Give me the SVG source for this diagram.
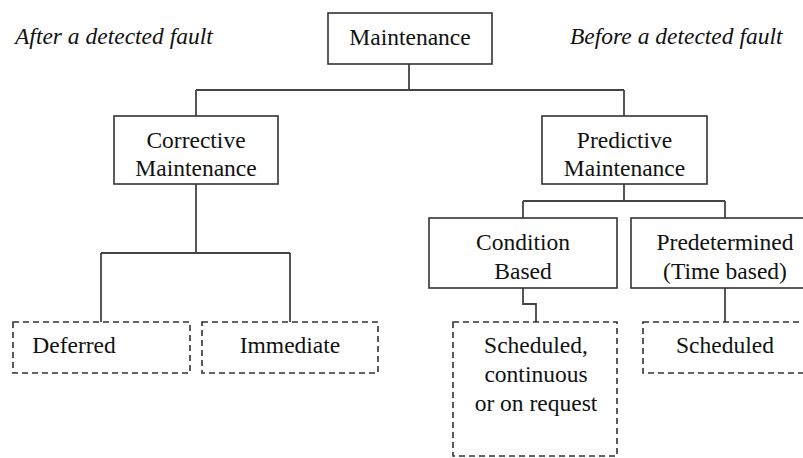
<svg xmlns="http://www.w3.org/2000/svg" width="803" height="458" viewBox="0 0 803 458">
<style>
.bg{fill:#fff}
.box{fill:#fff;stroke:#333;stroke-width:1.6}
.dbox{fill:#fff;stroke:#333;stroke-width:1.6;stroke-dasharray:6 4}
.con{fill:none;stroke:#444;stroke-width:1.8}
.t{font-family:'Liberation Serif','DejaVu Serif',serif;font-size:23.5px;fill:#111;text-anchor:middle}
.it{font-style:italic;text-anchor:start}
</style>
<rect class="bg" x="0" y="0" width="803" height="458"/>
<g id="connectors">
<path class="con" d="M409,64V90M196,90H624M196,90V116M624,90V116"/>
<path class="con" d="M196,184V253M101,253H290M101,253V322M290,253V322"/>
<path class="con" d="M624,184V201M523,201H725M523,201V218M725,201V218"/>
<path class="con" d="M523,288V304H536V322"/>
<path class="con" d="M725,288V322"/>
</g>
<g id="label-after"><text class="t it" x="15" y="44">After a detected fault</text></g>
<g id="label-before"><text class="t it" x="570" y="44">Before a detected fault</text></g>
<g id="maintenance">
<rect class="box" x="328" y="13" width="164" height="51"/>
<text class="t" x="410" y="45">Maintenance</text>
</g>
<g id="corrective">
<rect class="box" x="114" y="116" width="164" height="68"/>
<text class="t" x="196" y="148">Corrective</text>
<text class="t" x="196" y="176">Maintenance</text>
</g>
<g id="predictive">
<rect class="box" x="542" y="116" width="165" height="68"/>
<text class="t" x="624.5" y="148">Predictive</text>
<text class="t" x="624.5" y="176">Maintenance</text>
</g>
<g id="deferred">
<rect class="dbox" x="13" y="322" width="177" height="51"/>
<text class="t" x="74" y="353">Deferred</text>
</g>
<g id="immediate">
<rect class="dbox" x="202" y="322" width="176" height="51"/>
<text class="t" x="290" y="353">Immediate</text>
</g>
<g id="condition">
<rect class="box" x="429" y="218" width="188" height="70"/>
<text class="t" x="523" y="250">Condition</text>
<text class="t" x="523" y="279">Based</text>
</g>
<g id="predetermined">
<rect class="box" x="631" y="218" width="190" height="70"/>
<text class="t" x="725" y="250">Predetermined</text>
<text class="t" x="725" y="279">(Time based)</text>
</g>
<g id="scheduled-continuous">
<rect class="dbox" x="453" y="322" width="164" height="134"/>
<text class="t" x="536" y="353">Scheduled,</text>
<text class="t" x="536" y="382">continuous</text>
<text class="t" x="536" y="411">or on request</text>
</g>
<g id="scheduled">
<rect class="dbox" x="643" y="322" width="180" height="51"/>
<text class="t" x="725" y="353">Scheduled</text>
</g>
</svg>
